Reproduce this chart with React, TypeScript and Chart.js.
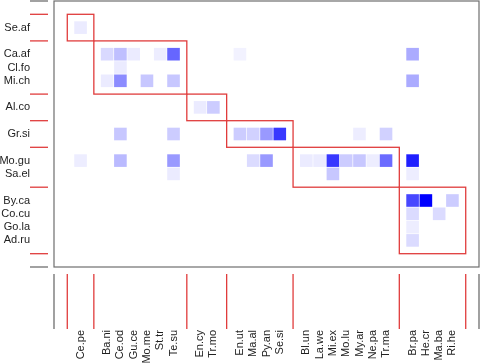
import React, { useEffect, useRef } from 'react';
import { Chart, registerables } from 'chart.js';
Chart.register(...registerables);

// Row (lower level) species grouped by module
const rowModules: string[][] = [
  ['Se.af'],
  ['Ca.af', 'Cl.fo', 'Mi.ch'],
  ['Al.co'],
  ['Gr.si'],
  ['Mo.gu', 'Sa.el'],
  ['By.ca', 'Co.cu', 'Go.la', 'Ad.ru'],
];

// Column (higher level) species grouped by module
const colModules: string[][] = [
  ['Ce.pe'],
  ['Ba.ni', 'Ce.od', 'Gu.ce', 'Mo.me', 'St.tr', 'Te.su'],
  ['En.cy', 'Tr.mo'],
  ['En.ut', 'Ma.al', 'Py.an', 'Se.si'],
  ['Bl.un', 'La.we', 'Mi.ex', 'Mo.lu', 'My.ar', 'Ne.pa', 'Tr.ma'],
  ['Br.pa', 'He.cr', 'Ma.ba', 'Ri.he'],
];

// Interaction strength (relative, 1 = strongest)
const interactions: [string, string, number][] = [
  ['Se.af', 'Ce.pe', 0.08],
  ['Ca.af', 'Ba.ni', 0.15],
  ['Ca.af', 'Ce.od', 0.25],
  ['Ca.af', 'Gu.ce', 0.08],
  ['Ca.af', 'St.tr', 0.07],
  ['Ca.af', 'Te.su', 0.6],
  ['Ca.af', 'En.ut', 0.05],
  ['Ca.af', 'Br.pa', 0.33],
  ['Cl.fo', 'Ce.od', 0.08],
  ['Mi.ch', 'Ba.ni', 0.08],
  ['Mi.ch', 'Ce.od', 0.45],
  ['Mi.ch', 'Mo.me', 0.22],
  ['Mi.ch', 'Te.su', 0.22],
  ['Mi.ch', 'Br.pa', 0.33],
  ['Al.co', 'En.cy', 0.08],
  ['Al.co', 'Tr.mo', 0.2],
  ['Gr.si', 'Ce.od', 0.22],
  ['Gr.si', 'Te.su', 0.2],
  ['Gr.si', 'En.ut', 0.2],
  ['Gr.si', 'Ma.al', 0.18],
  ['Gr.si', 'Py.an', 0.4],
  ['Gr.si', 'Se.si', 0.78],
  ['Gr.si', 'My.ar', 0.07],
  ['Gr.si', 'Tr.ma', 0.18],
  ['Mo.gu', 'Ce.pe', 0.07],
  ['Mo.gu', 'Ce.od', 0.27],
  ['Mo.gu', 'Te.su', 0.4],
  ['Mo.gu', 'Ma.al', 0.14],
  ['Mo.gu', 'Py.an', 0.4],
  ['Mo.gu', 'Bl.un', 0.08],
  ['Mo.gu', 'La.we', 0.08],
  ['Mo.gu', 'Mi.ex', 0.78],
  ['Mo.gu', 'Mo.lu', 0.2],
  ['Mo.gu', 'My.ar', 0.22],
  ['Mo.gu', 'Ne.pa', 0.07],
  ['Mo.gu', 'Tr.ma', 0.58],
  ['Mo.gu', 'Br.pa', 0.88],
  ['Sa.el', 'Te.su', 0.08],
  ['Sa.el', 'Mi.ex', 0.22],
  ['Sa.el', 'Br.pa', 0.07],
  ['By.ca', 'Br.pa', 0.72],
  ['By.ca', 'He.cr', 1.0],
  ['By.ca', 'Ri.he', 0.2],
  ['Co.cu', 'Br.pa', 0.14],
  ['Co.cu', 'Ma.ba', 0.14],
  ['Go.la', 'Br.pa', 0.07],
  ['Ad.ru', 'Br.pa', 0.14],
];

const RED = '#e03c3c';
const GREY = '#6e6e6e';
const TEXT = '#222222';
const FONT = "'Liberation Sans', Arial, sans-serif";

function buildLayout(mods: string[][]) {
  const pos: Record<string, number> = {};
  const names: Record<number, string> = {};
  const gaps: number[] = [0];
  let i = 1;
  for (const m of mods) {
    for (const n of m) {
      pos[n] = i;
      names[i] = n;
      i++;
    }
    gaps.push(i);
    i++;
  }
  return { pos, names, gaps, count: i };
}

const rowL = buildLayout(rowModules);
const colL = buildLayout(colModules);

function shade(v: number) {
  const c = Math.round(255 * (1 - v));
  return `rgb(${c},${c},255)`;
}

const decor = {
  id: 'decor',
  afterDraw(chart: any) {
    const { ctx, chartArea: a } = chart;
    const xs = chart.scales.x;
    const ys = chart.scales.y;
    ctx.save();
    // frame
    ctx.strokeStyle = GREY;
    ctx.lineWidth = 1.2;
    ctx.strokeRect(a.left, a.top, a.right - a.left, a.bottom - a.top);
    // module rectangles
    ctx.strokeStyle = RED;
    ctx.lineWidth = 1.3;
    for (let k = 0; k < rowModules.length; k++) {
      const x0 = xs.getPixelForValue(colL.gaps[k]);
      const x1 = xs.getPixelForValue(colL.gaps[k + 1]);
      const y0 = ys.getPixelForValue(rowL.gaps[k]);
      const y1 = ys.getPixelForValue(rowL.gaps[k + 1]);
      ctx.strokeRect(x0, y0, x1 - x0, y1 - y0);
    }
    // left axis marks
    const lx0 = a.left - 24;
    const lx1 = a.left - 6;
    const hline = (yy: number, col: string) => {
      ctx.strokeStyle = col;
      ctx.beginPath();
      ctx.moveTo(lx0, yy);
      ctx.lineTo(lx1, yy);
      ctx.stroke();
    };
    hline(a.top, GREY);
    hline(a.bottom, GREY);
    for (const g of rowL.gaps) hline(ys.getPixelForValue(g), RED);
    // bottom axis marks
    const by0 = a.bottom + 7;
    const by1 = a.bottom + 62;
    const vline = (xx: number, col: string) => {
      ctx.strokeStyle = col;
      ctx.beginPath();
      ctx.moveTo(xx, by0);
      ctx.lineTo(xx, by1);
      ctx.stroke();
    };
    vline(a.left, GREY);
    vline(a.right, GREY);
    for (const g of colL.gaps) vline(xs.getPixelForValue(g), RED);
    ctx.restore();
  },
};

function cellRadius(c: any) {
  const xs = c.chart.scales.x;
  const unit = xs ? Math.abs(xs.getPixelForValue(1) - xs.getPixelForValue(0)) : 13;
  return (unit * 0.95) / Math.SQRT2;
}

export default function App() {
  const ref = useRef<HTMLCanvasElement | null>(null);
  useEffect(() => {
    if (!ref.current) return;
    const data = interactions.map(([r, c]) => ({ x: colL.pos[c], y: rowL.pos[r] }));
    const colors = interactions.map(([, , v]) => shade(v));
    const chart = new Chart(ref.current, {
      type: 'scatter',
      data: {
        datasets: [
          {
            data,
            backgroundColor: colors,
            borderWidth: 0,
            pointStyle: 'rect',
            pointRadius: cellRadius,
            pointHoverRadius: cellRadius,
          },
        ],
      },
      options: {
        animation: false,
        responsive: true,
        maintainAspectRatio: false,
        events: [],
        layout: { padding: { top: 1, right: 1, left: 0, bottom: 0 } },
        plugins: { legend: { display: false }, tooltip: { enabled: false } },
        scales: {
          x: {
            type: 'linear',
            position: 'bottom',
            min: -1,
            max: colL.count,
            grid: { display: false, drawTicks: false },
            border: { display: false },
            afterBuildTicks: (s: any) => {
              s.ticks = Object.keys(colL.names).map((k) => ({ value: Number(k) }));
            },
            afterFit: (s: any) => {
              s.height = 96;
              s.paddingLeft = 0;
              s.paddingRight = 0;
            },
            ticks: {
              autoSkip: false,
              minRotation: 90,
              maxRotation: 90,
              padding: 63,
              color: TEXT,
              font: { family: FONT, size: 11 },
              callback: (v: any) => colL.names[Number(v)] ?? '',
            },
          },
          y: {
            type: 'linear',
            reverse: true,
            min: -1,
            max: rowL.count,
            grid: { display: false, drawTicks: false },
            border: { display: false },
            afterBuildTicks: (s: any) => {
              s.ticks = Object.keys(rowL.names).map((k) => ({ value: Number(k) }));
            },
            afterFit: (s: any) => {
              s.width = 54;
              s.paddingTop = 0;
              s.paddingBottom = 0;
            },
            ticks: {
              autoSkip: false,
              padding: 24,
              color: TEXT,
              font: { family: FONT, size: 11 },
              callback: (v: any) => rowL.names[Number(v)] ?? '',
            },
          },
        },
      },
      plugins: [decor],
    } as any);
    return () => chart.destroy();
  }, []);
  return (
    <div style={{ position: 'fixed', left: 0, top: 0, width: 480, height: 363, background: '#fff' }}>
      <canvas ref={ref} />
    </div>
  );
}
